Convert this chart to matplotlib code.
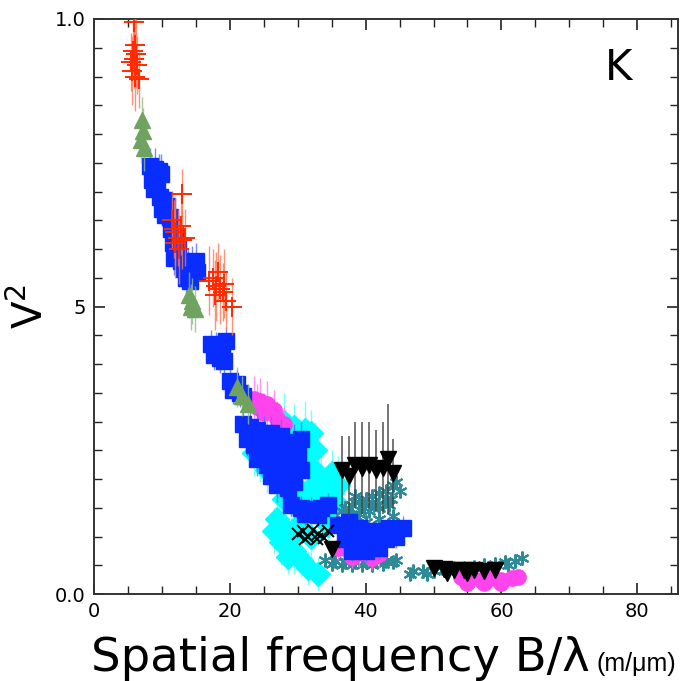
import matplotlib
matplotlib.use("Agg")
import matplotlib.pyplot as plt
from matplotlib.ticker import MultipleLocator, FixedLocator, FixedFormatter

# ---------------- data ----------------
# cyan diamonds
cyan_x = [23.5, 24.5, 27, 28, 29.5, 31, 32, 32.5, 31.5, 32.8, 27.5, 29, 30.5, 32, 33.5, 35, 28, 31, 34,
          27, 28, 29, 27.5, 29.5, 30.5, 31.5, 33, 30, 32, 28.5, 34, 35.5, 36, 35, 33.5, 34.5, 26.5, 25.5]
cyan_y = [0.245, 0.235, 0.275, 0.30, 0.29, 0.285, 0.28, 0.25, 0.225, 0.21, 0.19, 0.185, 0.18, 0.185, 0.18,
          0.175, 0.165, 0.17, 0.165, 0.13, 0.115, 0.10, 0.09, 0.075, 0.06, 0.045, 0.035, 0.12, 0.10, 0.065,
          0.14, 0.16, 0.19, 0.21, 0.20, 0.12, 0.11, 0.215]
cyan_e = [0.04, 0.04, 0.04, 0.05, 0.04, 0.05, 0.04, 0.05, 0.04, 0.04, 0.04, 0.05, 0.04, 0.05, 0.04,
          0.05, 0.04, 0.05, 0.04, 0.04, 0.05, 0.04, 0.04, 0.04, 0.03, 0.03, 0.03, 0.04, 0.04, 0.03,
          0.04, 0.05, 0.05, 0.04, 0.04, 0.04, 0.04, 0.04]

# teal star markers
teal_x = [36.5, 37, 38, 39, 40, 41, 42, 43, 44, 44.5, 37.5, 39, 40.5, 42, 43.5, 38, 40, 42, 44,
          36.5, 38.5, 41, 43, 45, 37.8, 39.8, 41.8, 43.8,
          34, 35.5, 37, 38.5, 40, 41.5, 43, 44.5, 35, 36.5, 38, 39.5, 41, 42.5, 44,
          47, 48.5, 50, 51.5, 53, 54.5, 56, 57.5, 59, 60.5, 62, 63, 46.5, 49, 52, 55, 58, 61]
teal_y = [0.13, 0.15, 0.155, 0.16, 0.165, 0.17, 0.175, 0.18, 0.19, 0.195, 0.135, 0.14, 0.145, 0.15, 0.155,
          0.12, 0.125, 0.13, 0.135,
          0.145, 0.17, 0.16, 0.165, 0.18, 0.14, 0.15, 0.155, 0.165,
          0.06, 0.058, 0.055, 0.055, 0.055, 0.057, 0.058, 0.06, 0.052, 0.05, 0.05, 0.05, 0.05, 0.052, 0.055,
          0.04, 0.04, 0.04, 0.042, 0.045, 0.045, 0.047, 0.05, 0.052, 0.055, 0.058, 0.062,
          0.035, 0.035, 0.04, 0.04, 0.045, 0.05]

# magenta circles
mag_x = [23.5, 24.5, 25.5, 26.5, 25, 27, 28, 24,
         36, 37.5, 39, 40.5, 42, 38, 41,
         54, 55.5, 57, 58.5, 60, 61.5, 62.5, 55, 57.5, 60]
mag_y = [0.34, 0.335, 0.33, 0.32, 0.315, 0.305, 0.295, 0.325,
         0.08, 0.075, 0.072, 0.07, 0.07, 0.065, 0.062,
         0.03, 0.028, 0.025, 0.027, 0.025, 0.028, 0.03, 0.02, 0.02, 0.02]
mag_e = [0.04, 0.04, 0.04, 0.035, 0.035, 0.03, 0.03, 0.04,
         0.02, 0.02, 0.025, 0.02, 0.025, 0.02, 0.02,
         0.01, 0.01, 0.01, 0.01, 0.01, 0.01, 0.01, 0.01, 0.01, 0.01]

# blue squares
blue_x = [8.3, 9.0, 9.6, 8.6, 9.3, 9.9, 8.8,
          9.7, 10.3, 10.0, 10.8, 10.5, 11.2,
          11.3, 12.0, 11.6, 12.4, 11.8, 12.8, 13.2, 13.8, 14.5, 15.0, 13.5, 14.2, 15.2,
          17.2, 18.0, 18.8, 19.5, 17.6, 18.5, 19.2,
          20.0, 21.0, 20.5, 21.5, 22.0,
          22.0, 23.0, 24.0, 25.0, 26.0, 27.5, 22.5, 23.5, 24.5, 26.0, 28.0, 29.5, 30.5,
          24.0, 25.5, 27.0, 28.5, 30.0, 26.0, 27.5, 29.0, 30.5, 27.0, 28.5, 29.5,
          29.0, 30.5, 32.0, 33.5, 34.5, 31.0, 33.0,
          36.0, 37.5, 39.0, 40.5, 42.0, 43.5, 45.5, 37.0, 38.5, 40.0, 41.5, 43.0, 44.5, 38.0, 40.0, 42.0]
blue_y = [0.745, 0.74, 0.735, 0.72, 0.715, 0.73, 0.705,
          0.69, 0.685, 0.67, 0.675, 0.66, 0.655,
          0.635, 0.625, 0.61, 0.60, 0.585, 0.58, 0.565, 0.57, 0.575, 0.58, 0.55, 0.545, 0.56,
          0.435, 0.43, 0.425, 0.44, 0.415, 0.41, 0.405,
          0.37, 0.365, 0.355, 0.35, 0.345,
          0.295, 0.29, 0.285, 0.28, 0.28, 0.275, 0.27, 0.26, 0.25, 0.255, 0.26, 0.265, 0.27,
          0.235, 0.225, 0.23, 0.235, 0.24, 0.205, 0.20, 0.21, 0.215, 0.19, 0.185, 0.195,
          0.155, 0.15, 0.148, 0.15, 0.155, 0.14, 0.138,
          0.12, 0.125, 0.115, 0.11, 0.11, 0.115, 0.115, 0.095, 0.09, 0.085, 0.09, 0.095, 0.10, 0.075, 0.075, 0.08]
blue_e = [0.03, 0.035, 0.03, 0.03, 0.03, 0.035, 0.03,
          0.03, 0.03, 0.03, 0.03, 0.03, 0.03,
          0.03, 0.03, 0.03, 0.03, 0.03, 0.03, 0.03, 0.03, 0.03, 0.03, 0.03, 0.03, 0.03,
          0.025, 0.025, 0.025, 0.025, 0.025, 0.025, 0.025,
          0.025, 0.025, 0.025, 0.025, 0.025,
          0.03, 0.03, 0.03, 0.03, 0.03, 0.03, 0.03, 0.03, 0.03, 0.03, 0.03, 0.03, 0.03,
          0.03, 0.03, 0.03, 0.03, 0.03, 0.03, 0.03, 0.03, 0.03, 0.03, 0.03, 0.03,
          0.02, 0.02, 0.02, 0.02, 0.02, 0.02, 0.02,
          0.02, 0.02, 0.02, 0.02, 0.02, 0.02, 0.02, 0.02, 0.02, 0.02, 0.02, 0.02, 0.02, 0.02, 0.02, 0.02]

# black x markers
bx_x = [30.0, 30.8, 31.5, 32.2, 33.0, 33.8, 34.5, 31.0, 32.8]
bx_y = [0.105, 0.11, 0.10, 0.112, 0.105, 0.098, 0.11, 0.095, 0.095]

# black inverted triangles
bt_x = [36.5, 37.5, 38.5, 39.5, 40.5, 41.5, 42.5, 43.3, 44.0,
        35.0,
        50.0, 51.5, 53.0, 54.5, 56.0, 57.5, 59.0, 52.0, 55.0]
bt_y = [0.215, 0.205, 0.225, 0.22, 0.225, 0.215, 0.22, 0.235, 0.21,
        0.078,
        0.045, 0.043, 0.042, 0.042, 0.041, 0.04, 0.042, 0.036, 0.036]
bt_e = [0.06, 0.07, 0.075, 0.08, 0.075, 0.07, 0.08, 0.095, 0.06,
        0.01,
        0.005, 0.005, 0.005, 0.005, 0.005, 0.005, 0.005, 0.005, 0.005]

# green triangles
grn_x = [7.0, 7.2, 6.9, 7.3, 14.0, 14.5, 14.3, 14.8, 21.0, 21.8, 22.7]
grn_y = [0.825, 0.805, 0.79, 0.775, 0.52, 0.51, 0.50, 0.495, 0.36, 0.345, 0.33]
grn_e = [0.04, 0.04, 0.04, 0.04, 0.04, 0.04, 0.04, 0.04, 0.035, 0.035, 0.035]

# red plus
red_x = [5.9, 6.0, 5.8, 6.2, 5.9, 6.3, 5.6, 6.0, 6.6, 5.5,
         13.0,
         11.5, 12.0, 12.3, 12.8, 12.0, 13.0, 12.5, 13.4, 11.8,
         17.0, 17.5, 18.0, 18.5, 19.0, 17.8, 19.5, 20.3, 18.2, 19.2]
red_y = [0.995, 0.955, 0.945, 0.94, 0.93, 0.92, 0.91, 0.90, 0.895, 0.925,
         0.695,
         0.65, 0.63, 0.62, 0.64, 0.61, 0.615, 0.60, 0.62, 0.635,
         0.545, 0.55, 0.535, 0.53, 0.525, 0.52, 0.51, 0.50, 0.56, 0.54]
red_e = [0.05, 0.06, 0.05, 0.06, 0.05, 0.05, 0.06, 0.06, 0.05, 0.05,
         0.045,
         0.05, 0.06, 0.05, 0.05, 0.06, 0.05, 0.06, 0.05, 0.05,
         0.06, 0.05, 0.06, 0.06, 0.05, 0.06, 0.05, 0.05, 0.05, 0.06]

xticks = [0, 20, 40, 60, 80]
yticks = [0.0, 0.5, 1.0]
ytick_labels = ["0.0", "5", "1.0"]

# ---------------- figure ----------------
fig = plt.figure(figsize=(6.84, 6.81), dpi=100)
ax = fig.add_axes([94 / 684, 1 - 594 / 681, 584 / 684, 575 / 681])

def series(x, y, e, marker, color, ecolor, ms, mew=1.0, z=2, elw=1.0):
    if e is not None:
        ax.errorbar(x, y, yerr=e, fmt="none", ecolor=ecolor, elinewidth=elw,
                    capsize=0, alpha=0.8, zorder=z)
    ax.plot(x, y, linestyle="none", marker=marker, color=color, markersize=ms,
            markeredgewidth=mew, zorder=z + 0.5)

series(cyan_x, cyan_y, cyan_e, "D", "#00ffff", "#55ffff", 12, z=2)
series(teal_x, teal_y, None, (6, 2, 0), "#2e8a96", "#2e8a96", 10, mew=1.5, z=3)
series(mag_x, mag_y, mag_e, "o", "#ff44ee", "#ff77f0", 11, z=4)
series(blue_x, blue_y, blue_e, "s", "#0a2dff", "#5070ff", 11.5, z=5)
series(bx_x, bx_y, None, "x", "black", "black", 9, mew=1.4, z=6)
series(bt_x, bt_y, bt_e, "v", "black", "#444444", 12, z=7, elw=1.3)
series(grn_x, grn_y, grn_e, "^", "#6fa35f", "#8fbf80", 11, z=8)
series(red_x, red_y, red_e, "+", "#ff2a00", "#ff7755", 14, mew=1.4, z=9)

ax.set_xlim(0, 86)
ax.set_ylim(0, 1.0)
ax.xaxis.set_major_locator(FixedLocator(xticks))
ax.xaxis.set_minor_locator(MultipleLocator(5))
ax.yaxis.set_major_locator(FixedLocator(yticks))
ax.yaxis.set_major_formatter(FixedFormatter(ytick_labels))
ax.yaxis.set_minor_locator(MultipleLocator(0.05))
ax.tick_params(which="both", direction="in", top=True, right=True, color="#222222")
ax.tick_params(which="major", length=8, width=1.2, labelsize=14, pad=6)
ax.tick_params(which="minor", length=6, width=1.0)
for s in ax.spines.values():
    s.set_linewidth(1.4)
    s.set_color("#333333")

ax.text(0.898, 0.915, "K", transform=ax.transAxes, fontsize=30, ha="center", va="center")
ax.set_ylabel("V$^2$", fontsize=29, labelpad=2)

fig.text(91 / 684, 1 - 671 / 681, "Spatial frequency B/λ", fontsize=33.5, ha="left", va="baseline")
fig.text(597 / 684, 1 - 671 / 681, "(m/μm)", fontsize=18,
         family=["Liberation Sans", "DejaVu Sans"], ha="left", va="baseline")

fig.savefig("out.png", dpi=100)
